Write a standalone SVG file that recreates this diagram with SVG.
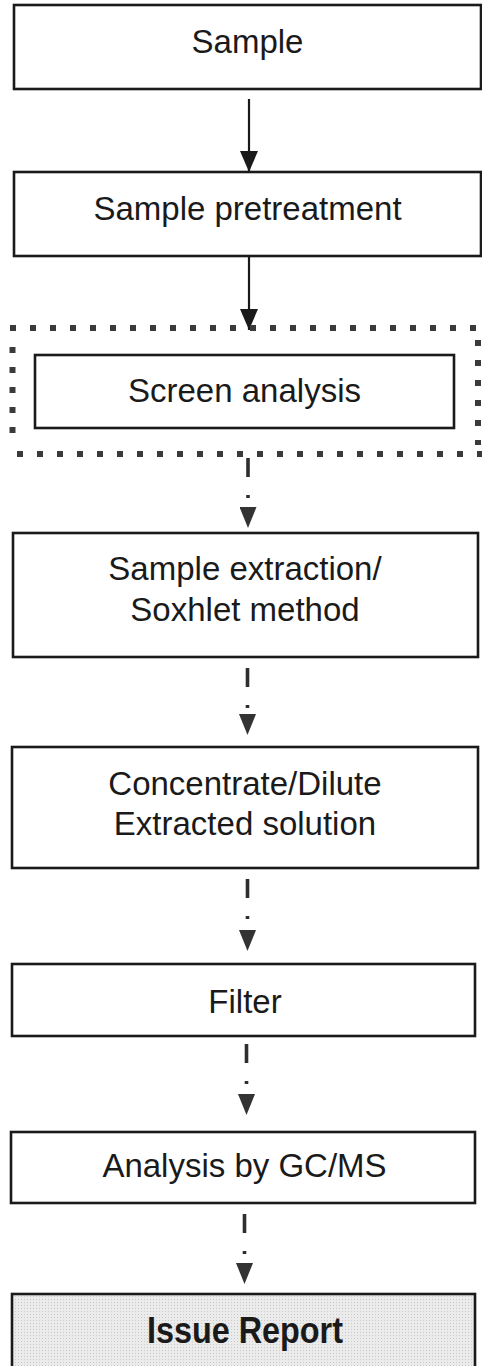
<svg xmlns="http://www.w3.org/2000/svg" width="482" height="1366" viewBox="0 0 482 1366">
<style>
.box{fill:#ffffff;stroke:#1a1a1a;stroke-width:2.6}
.lbl{font-family:"Liberation Sans",Arial,sans-serif;font-size:33px;fill:#1a1a1a;text-anchor:middle}
.solid{stroke:#1a1a1a;stroke-width:2.2;fill:none}
.dash{stroke:#2e2e2e;stroke-width:3.6;fill:none;stroke-dasharray:19 18 3 300}
.dotrow{stroke:#3a3a3a;stroke-width:6;fill:none;stroke-dasharray:6 14}
</style>
<defs>
<marker id="hs" markerUnits="userSpaceOnUse" markerWidth="21" markerHeight="18" refX="21" refY="9" orient="auto" viewBox="0 0 21 18">
<path d="M0,0 L21,9 L0,18 z" fill="#1a1a1a"/>
</marker>
<marker id="hd" markerUnits="userSpaceOnUse" markerWidth="21" markerHeight="17" refX="21" refY="8.5" orient="auto" viewBox="0 0 21 17">
<path d="M0,0 L21,8.5 L0,17 z" fill="#333333"/>
</marker>
<pattern id="grain" width="3" height="3" patternUnits="userSpaceOnUse">
<rect width="3" height="3" fill="#ebebeb"/>
<rect width="1" height="1" fill="#c9c9c9"/>
</pattern>
</defs>

<g id="connectors">
<line class="solid" x1="249" y1="99" x2="249" y2="172" marker-end="url(#hs)"/>
<line class="solid" x1="249" y1="256" x2="249" y2="330" marker-end="url(#hs)"/>
<line class="dash" x1="248" y1="458" x2="248" y2="528" marker-end="url(#hd)"/>
<line class="dash" x1="247.5" y1="668" x2="247.5" y2="735" marker-end="url(#hd)"/>
<line class="dash" x1="247.5" y1="879" x2="247.5" y2="951" marker-end="url(#hd)"/>
<line class="dash" x1="246.5" y1="1044" x2="246.5" y2="1115" marker-end="url(#hd)"/>
<line class="dash" x1="244.5" y1="1214" x2="244.5" y2="1284" marker-end="url(#hd)"/>
</g>

<g id="n1">
<rect class="box" x="14" y="5" width="467" height="84"/>
<text class="lbl" x="247.5" y="53">Sample</text>
</g>

<g id="n2">
<rect class="box" x="14" y="172" width="467" height="84"/>
<text class="lbl" x="247.5" y="220">Sample pretreatment</text>
</g>

<g id="n3">
<line class="dotrow" x1="10" y1="328" x2="482" y2="328"/>
<line class="dotrow" x1="17" y1="454" x2="482" y2="454"/>
<line class="dotrow" x1="12.5" y1="347" x2="12.5" y2="445"/>
<line class="dotrow" x1="478" y1="340" x2="478" y2="445"/>
<rect class="box" x="35" y="355" width="419" height="73"/>
<text class="lbl" x="244.5" y="402">Screen analysis</text>
</g>

<g id="n4">
<rect class="box" x="13" y="533" width="465" height="124"/>
<text class="lbl" x="245" y="580">Sample extraction/</text>
<text class="lbl" x="245" y="621">Soxhlet method</text>
</g>

<g id="n5">
<rect class="box" x="12" y="747" width="466" height="121"/>
<text class="lbl" x="245" y="795">Concentrate/Dilute</text>
<text class="lbl" x="245" y="835">Extracted solution</text>
</g>

<g id="n6">
<rect class="box" x="12" y="964" width="463" height="72"/>
<text class="lbl" x="245" y="1013">Filter</text>
</g>

<g id="n7">
<rect class="box" x="11" y="1132" width="464" height="71"/>
<text class="lbl" x="244.5" y="1177">Analysis by GC/MS</text>
</g>

<g id="n8">
<rect x="12" y="1294" width="463" height="80" fill="url(#grain)" stroke="#1a1a1a" stroke-width="2.6"/>
<text x="245" y="1343" font-family="'Liberation Sans',Arial,sans-serif" font-size="37" font-weight="bold" fill="#1a1a1a" text-anchor="middle" textLength="196" lengthAdjust="spacingAndGlyphs">Issue Report</text>
</g>
</svg>
